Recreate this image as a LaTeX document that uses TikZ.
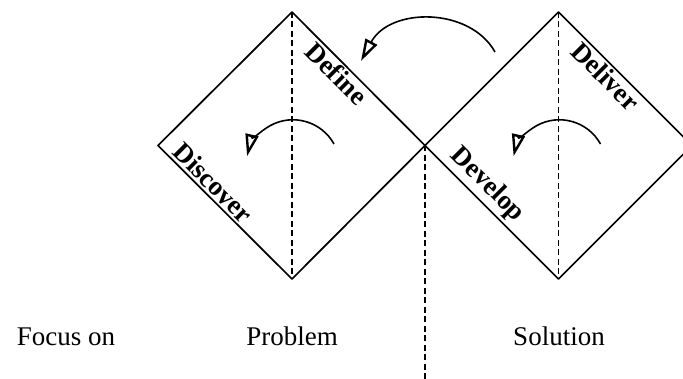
\documentclass[tikz,border=0pt]{standalone}
\usepackage{fontspec}
\setmainfont{Liberation Serif}
\usetikzlibrary{arrows.meta}
\begin{document}
\begin{tikzpicture}[x=1pt,y=-1pt,
  edge/.style={line width=1.7pt,line join=round},
  dashline/.style={line width=1.4pt,dash pattern=on 6pt off 3.5pt},
  turn/.style={line width=1.6pt,-{Triangle[open,length=22pt,width=13pt,line width=2.4pt]}},
  phase/.style={font=\fontsize{27}{30}\selectfont\bfseries,rotate=-45,inner sep=2pt},
  focus/.style={font=\fontsize{27}{30}\selectfont,anchor=base,inner sep=0pt}]
\clip (0,0) rectangle (683,379);
% vertices
\coordinate (lt) at (292,12);
\coordinate (lb) at (292,279);
\coordinate (ll) at (158,145.5);
\coordinate (mid) at (425,145.5);
\coordinate (rt) at (558.5,12);
\coordinate (rb) at (558.5,279);
\coordinate (rr) at (692,145.5);
\coordinate (foot) at (425,379);
\coordinate (topstart) at (495,52);
\coordinate (topend) at (361,61);
% diamonds
\draw[edge] (lt) -- (mid) -- (lb) -- (ll) -- cycle;
\draw[edge] (rt) -- (rr) -- (rb) -- (mid) -- cycle;
\draw[dashline] (lt) -- (lb);
\draw[dashline] (rt) -- (rb);
\draw[dashline] (mid) -- (foot);
% labels
\node[phase,anchor=south] (discover) at (205,191) {Discover};
\node[phase,anchor=north] (define) at (345,65) {Define};
\node[phase,anchor=south] (develop) at (477,195) {Develop};
\node[phase,anchor=north] (deliver) at (614,68) {Deliver};
% arrows
\draw[turn] (334,144) arc[start angle=-29,end angle=-167,radius=47];
\draw[turn] (600.5,144) arc[start angle=-29,end angle=-167,radius=47];
\draw[turn] (topstart) .. controls (470,7) and (390,7) .. (topend);
% bottom texts
\node[focus] (focuson) at (66,346) {Focus on};
\node[focus] (problem) at (292,346) {Problem};
\node[focus] (solution) at (559,346) {Solution};
\end{tikzpicture}
\end{document}
